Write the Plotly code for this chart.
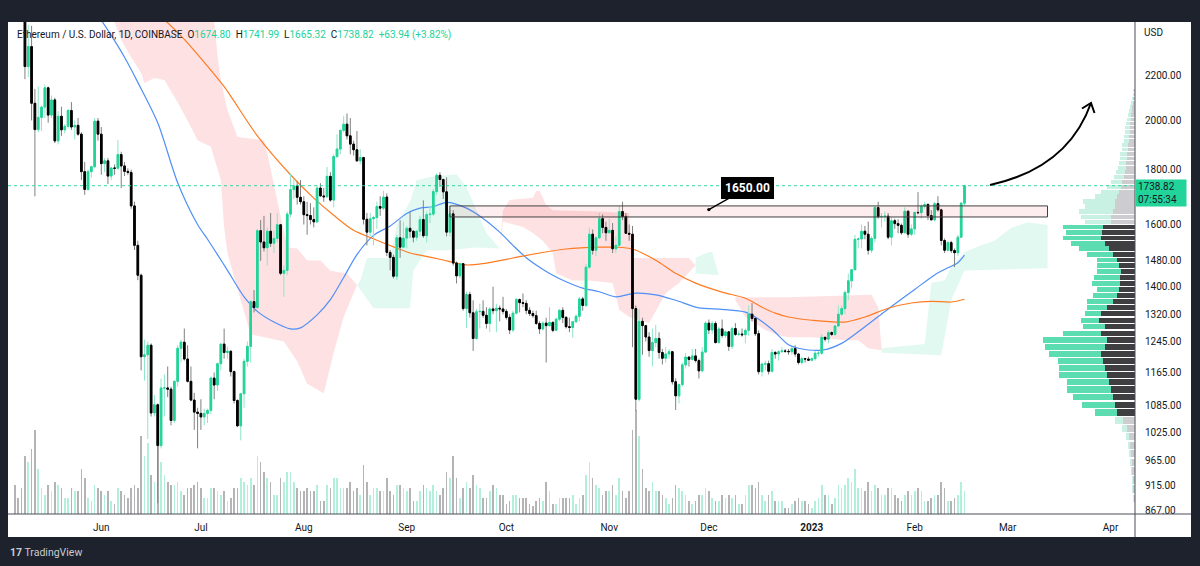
import numpy as np
import pandas as pd
import plotly.graph_objects as go

# ---------------- data: ETH/USD daily candles (COINBASE) ----------------
dates = pd.date_range("2022-05-06", "2023-02-16", freq="D")

opens = [
    2749, 2695, 2636, 2518, 2245, 2343, 2075, 1961, 2013, 2058, 2145, 2023, 2090, 1914, 2018, 1960, 1975, 2043, 1972, 1979, 1942, 1792, 1725, 1792, 1811, 1997,
    1942, 1823, 1834, 1775, 1806, 1805, 1859, 1814, 1793, 1789, 1665, 1530, 1435, 1205, 1210, 1235, 1068, 1087, 996, 1127, 1127, 1124, 1051, 1143, 1227, 1243, 1199, 1143, 1098, 1070,
    1067, 1059, 1067, 1074, 1151, 1134, 1187, 1238, 1216, 1219, 1167, 1097, 1039, 1113, 1193, 1232, 1356, 1339, 1579, 1541, 1522, 1577, 1537, 1553, 1599, 1441, 1450, 1636, 1724, 1738, 1696,
    1680, 1634, 1631, 1617, 1609, 1730, 1701, 1698, 1774, 1686, 1851, 1881, 1958, 1984, 1935, 1901, 1878, 1834, 1847, 1618, 1574, 1620, 1624, 1663, 1657, 1697, 1507, 1491, 1432, 1555, 1524,
    1554, 1587, 1577, 1557, 1577, 1617, 1562, 1634, 1636, 1717, 1778, 1762, 1716, 1574, 1637, 1473, 1433, 1471, 1336, 1377, 1324, 1253, 1327, 1328, 1317, 1294, 1335, 1330, 1337, 1335,
    1328, 1311, 1276, 1323, 1362, 1353, 1351, 1331, 1322, 1316, 1294, 1279, 1295, 1288, 1297, 1275, 1306, 1331, 1311, 1285, 1283, 1299, 1314, 1364, 1345, 1460, 1567, 1514, 1555, 1620, 1590,
    1572, 1580, 1519, 1530, 1645, 1628, 1570, 1567, 1336, 1100, 1300, 1288, 1257, 1221, 1242, 1253, 1216, 1201, 1212, 1218, 1142, 1108, 1135, 1184, 1204, 1198, 1207, 1195, 1169, 1217,
    1295, 1276, 1294, 1242, 1279, 1261, 1271, 1232, 1280, 1264, 1265, 1263, 1275, 1320, 1308, 1266, 1167, 1186, 1187, 1168, 1216, 1212, 1218, 1220, 1219, 1218, 1226, 1212, 1190, 1200, 1199,
    1196, 1200, 1214, 1214, 1256, 1251, 1269, 1264, 1287, 1320, 1336, 1383, 1418, 1452, 1550, 1551, 1577, 1567, 1514, 1553, 1659, 1627, 1628, 1629, 1557, 1613, 1603, 1597, 1572, 1646, 1567,
    1585, 1642, 1641, 1664, 1670, 1631, 1616, 1673, 1651, 1546, 1514, 1539, 1513, 1506, 1557, 1674.80,
]
highs = [
    2760, 2700, 2640, 2545, 2455, 2450, 2140, 2150, 2065, 2160, 2150, 2110, 2100, 2040, 2060, 1985, 2050, 2080, 2000, 2010, 1950, 1830, 1800, 1815, 2010, 2010,
    1972, 1845, 1845, 1810, 1820, 1918, 1870, 1830, 1805, 1800, 1680, 1545, 1440, 1250, 1245, 1240, 1110, 1090, 1150, 1160, 1180, 1130, 1145, 1235, 1250, 1280, 1235, 1180, 1115, 1080,
    1100, 1078, 1078, 1155, 1165, 1190, 1240, 1280, 1232, 1222, 1170, 1100, 1115, 1200, 1245, 1360, 1390, 1585, 1615, 1630, 1590, 1640, 1580, 1640, 1600, 1465, 1645, 1785, 1765, 1755, 1760,
    1700, 1680, 1675, 1660, 1740, 1748, 1730, 1810, 1790, 1860, 1942, 1960, 2020, 2030, 2010, 1915, 1955, 1880, 1850, 1640, 1640, 1630, 1680, 1700, 1720, 1710, 1515, 1500, 1565, 1615, 1610,
    1595, 1645, 1580, 1580, 1630, 1685, 1645, 1665, 1727, 1785, 1790, 1765, 1770, 1650, 1650, 1478, 1475, 1472, 1385, 1385, 1360, 1335, 1350, 1360, 1340, 1340, 1400, 1350, 1345, 1370,
    1335, 1320, 1330, 1367, 1365, 1380, 1360, 1340, 1330, 1330, 1300, 1300, 1310, 1340, 1300, 1310, 1335, 1340, 1315, 1310, 1300, 1320, 1370, 1370, 1470, 1590, 1583, 1560, 1640, 1635, 1610,
    1620, 1605, 1560, 1665, 1680, 1640, 1600, 1595, 1345, 1335, 1310, 1290, 1270, 1280, 1290, 1270, 1225, 1230, 1225, 1220, 1150, 1138, 1190, 1215, 1205, 1225, 1225, 1200, 1230, 1300,
    1305, 1300, 1300, 1285, 1305, 1275, 1272, 1285, 1295, 1275, 1280, 1280, 1345, 1352, 1310, 1275, 1190, 1195, 1195, 1225, 1220, 1222, 1230, 1225, 1225, 1230, 1235, 1215, 1205, 1202, 1205,
    1203, 1220, 1220, 1265, 1258, 1275, 1272, 1290, 1345, 1345, 1390, 1440, 1455, 1565, 1555, 1600, 1595, 1610, 1560, 1665, 1680, 1640, 1645, 1640, 1625, 1620, 1618, 1603, 1660, 1650, 1600,
    1645, 1715, 1670, 1680, 1675, 1650, 1680, 1700, 1655, 1553, 1545, 1545, 1520, 1565, 1680, 1741.99,
]
lows = [
    2654, 2580, 2485, 2185, 2195, 2000, 1700, 1950, 1955, 2010, 1990, 2010, 1905, 1900, 1935, 1945, 1965, 1960, 1920, 1935, 1760, 1705, 1720, 1770, 1805, 1915,
    1780, 1790, 1745, 1760, 1780, 1800, 1730, 1775, 1780, 1655, 1515, 1420, 1170, 1145, 1010, 1060, 1060, 880, 990, 1060, 1105, 1040, 1045, 1130, 1190, 1195, 1140, 1095, 1030, 990,
    1030, 1040, 1045, 1065, 1100, 1120, 1170, 1200, 1200, 1155, 1090, 1036, 1007, 1080, 1180, 1190, 1325, 1335, 1480, 1510, 1465, 1525, 1505, 1540, 1435, 1370, 1435, 1625, 1690, 1670, 1670,
    1600, 1565, 1600, 1590, 1605, 1700, 1680, 1695, 1680, 1660, 1845, 1860, 1950, 1920, 1860, 1855, 1830, 1820, 1600, 1530, 1560, 1530, 1585, 1630, 1650, 1495, 1450, 1425, 1420, 1490, 1520,
    1520, 1555, 1540, 1545, 1560, 1555, 1540, 1605, 1630, 1705, 1735, 1690, 1560, 1560, 1465, 1410, 1425, 1330, 1282, 1310, 1220, 1250, 1280, 1310, 1280, 1270, 1320, 1270, 1300, 1320,
    1305, 1265, 1270, 1320, 1325, 1340, 1320, 1315, 1310, 1290, 1265, 1275, 1190, 1285, 1270, 1275, 1300, 1295, 1280, 1270, 1255, 1295, 1300, 1330, 1340, 1455, 1500, 1495, 1550, 1570, 1545,
    1570, 1505, 1505, 1525, 1615, 1570, 1545, 1230, 1073, 1095, 1210, 1245, 1205, 1180, 1230, 1200, 1185, 1190, 1200, 1135, 1075, 1090, 1130, 1175, 1180, 1195, 1190, 1150, 1165, 1215,
    1265, 1265, 1240, 1240, 1255, 1255, 1220, 1225, 1260, 1260, 1258, 1240, 1260, 1300, 1260, 1160, 1155, 1170, 1160, 1165, 1200, 1195, 1215, 1215, 1210, 1210, 1205, 1185, 1185, 1190, 1195,
    1193, 1195, 1205, 1210, 1245, 1240, 1260, 1260, 1285, 1315, 1320, 1360, 1395, 1450, 1520, 1520, 1550, 1500, 1505, 1540, 1620, 1590, 1610, 1550, 1530, 1585, 1570, 1565, 1570, 1555, 1560,
    1565, 1635, 1620, 1655, 1615, 1615, 1610, 1645, 1530, 1505, 1510, 1505, 1460, 1495, 1555, 1665.32,
]
closes = [
    2695, 2636, 2518, 2245, 2343, 2075, 1961, 2013, 2058, 2145, 2023, 2090, 1914, 2018, 1960, 1975, 2043, 1972, 1979, 1942, 1792, 1725, 1792, 1811, 1997, 1942,
    1823, 1834, 1775, 1806, 1805, 1859, 1814, 1793, 1789, 1665, 1530, 1435, 1205, 1210, 1235, 1068, 1087, 996, 1127, 1127, 1124, 1051, 1143, 1227, 1243, 1199, 1143, 1098, 1070, 1067,
    1059, 1067, 1074, 1151, 1134, 1187, 1238, 1216, 1219, 1167, 1097, 1039, 1113, 1193, 1232, 1356, 1339, 1579, 1541, 1522, 1577, 1537, 1553, 1599, 1441, 1450, 1636, 1724, 1738, 1696, 1680,
    1634, 1631, 1617, 1609, 1730, 1701, 1698, 1774, 1686, 1851, 1881, 1958, 1984, 1935, 1901, 1878, 1834, 1847, 1618, 1574, 1620, 1624, 1663, 1657, 1697, 1507, 1491, 1432, 1555, 1524, 1554,
    1587, 1577, 1557, 1577, 1617, 1562, 1634, 1636, 1717, 1778, 1762, 1716, 1574, 1637, 1473, 1433, 1471, 1336, 1377, 1324, 1253, 1327, 1328, 1317, 1294, 1335, 1330, 1337, 1335, 1328,
    1311, 1276, 1323, 1362, 1353, 1351, 1331, 1322, 1316, 1294, 1279, 1295, 1288, 1297, 1275, 1306, 1331, 1311, 1285, 1283, 1299, 1314, 1364, 1345, 1460, 1567, 1514, 1555, 1620, 1590, 1572,
    1580, 1519, 1530, 1645, 1628, 1570, 1567, 1336, 1100, 1300, 1288, 1257, 1221, 1242, 1253, 1216, 1201, 1212, 1218, 1142, 1108, 1135, 1184, 1204, 1198, 1207, 1195, 1169, 1217, 1295,
    1276, 1294, 1242, 1279, 1261, 1271, 1232, 1280, 1264, 1265, 1263, 1275, 1320, 1308, 1266, 1167, 1186, 1187, 1168, 1216, 1212, 1218, 1220, 1219, 1218, 1226, 1212, 1190, 1200, 1199, 1196,
    1200, 1214, 1214, 1256, 1251, 1269, 1264, 1287, 1320, 1336, 1383, 1418, 1452, 1550, 1551, 1577, 1567, 1514, 1553, 1659, 1627, 1628, 1629, 1557, 1613, 1603, 1597, 1572, 1646, 1567, 1585,
    1642, 1641, 1664, 1670, 1631, 1616, 1673, 1651, 1546, 1514, 1539, 1513, 1506, 1557, 1675, 1738.82,
]
volumes = [  # thousand ETH
    450, 250, 400, 900, 800, 1000, 1300, 700, 400, 300, 450, 350, 500, 450, 400, 250, 250, 400, 350, 350, 700, 550, 250, 200, 450, 400,
    350, 300, 350, 200, 150, 400, 350, 300, 250, 400, 450, 400, 1200, 900, 1100, 600, 500, 1250, 800, 600, 500, 450, 450, 500, 350, 300, 400, 400, 450, 500,
    400, 250, 250, 400, 400, 350, 300, 350, 200, 250, 400, 400, 550, 500, 450, 550, 450, 900, 800, 650, 550, 500, 300, 300, 550, 500, 650, 650, 500, 400, 350,
    350, 400, 350, 350, 450, 200, 200, 450, 400, 550, 550, 400, 400, 400, 500, 350, 400, 300, 750, 500, 300, 400, 400, 350, 350, 550, 350, 300, 450, 450, 400,
    350, 400, 200, 200, 350, 450, 400, 350, 450, 350, 300, 400, 650, 550, 900, 550, 250, 400, 500, 400, 600, 450, 400, 250, 250, 350, 450, 400, 300, 300,
    150, 200, 300, 300, 250, 250, 250, 150, 120, 200, 250, 200, 500, 350, 150, 150, 250, 250, 250, 250, 300, 150, 250, 300, 600, 800, 550, 450, 400, 300, 350,
    350, 450, 300, 550, 350, 250, 350, 1300, 1600, 1200, 700, 400, 350, 500, 350, 350, 300, 250, 150, 250, 450, 400, 350, 300, 200, 150, 200, 300, 300, 400,
    350, 250, 200, 200, 300, 250, 300, 250, 300, 150, 150, 300, 450, 450, 400, 500, 300, 200, 300, 350, 200, 200, 200, 100, 100, 150, 200, 250, 200, 200, 150,
    100, 200, 250, 450, 300, 300, 150, 250, 450, 400, 450, 550, 500, 700, 400, 400, 350, 500, 350, 450, 400, 300, 300, 400, 400, 300, 250, 200, 300, 350, 300,
    350, 400, 350, 200, 200, 250, 300, 300, 500, 400, 200, 200, 250, 300, 500, 350,
]
for arr in (opens, highs, lows, closes, volumes):
    assert len(arr) == len(dates), len(arr)

# moving averages
ma_fast_dates = ["2022-05-29", "2022-06-04", "2022-06-08", "2022-06-12", "2022-06-18", "2022-06-24", "2022-06-30",
                 "2022-07-03", "2022-07-06", "2022-07-09", "2022-07-14", "2022-07-18", "2022-07-23", "2022-07-28",
                 "2022-07-31", "2022-08-05", "2022-08-09", "2022-08-13", "2022-08-17", "2022-08-22", "2022-08-27",
                 "2022-09-01", "2022-09-05", "2022-09-09", "2022-09-13", "2022-09-19", "2022-09-24", "2022-09-29",
                 "2022-10-03", "2022-10-07", "2022-10-11", "2022-10-15", "2022-10-19", "2022-10-24", "2022-10-29",
                 "2022-11-03", "2022-11-09", "2022-11-15", "2022-11-21", "2022-11-28", "2022-12-05", "2022-12-12",
                 "2022-12-15", "2022-12-20", "2022-12-25", "2022-12-28", "2023-01-04", "2023-01-10", "2023-01-17",
                 "2023-01-25", "2023-02-01", "2023-02-07", "2023-02-11", "2023-02-14", "2023-02-16"]
ma_fast = [2560, 2400, 2290, 2170, 1990, 1750, 1600,
           1550, 1500, 1450, 1370, 1328, 1298, 1279,
           1282, 1318, 1362, 1428, 1500, 1563, 1595,
           1638, 1657, 1662, 1678, 1657, 1621, 1574,
           1530, 1490, 1460, 1435, 1415, 1396, 1385,
           1370, 1381, 1376, 1360, 1338, 1334, 1326,
           1312, 1278, 1236, 1227, 1222, 1240, 1285,
           1342, 1392, 1436, 1458, 1474, 1498]
ma_slow_dates = ["2022-06-16", "2022-06-20", "2022-06-26", "2022-07-01", "2022-07-08", "2022-07-18", "2022-07-28",
                 "2022-08-04", "2022-08-10", "2022-08-16", "2022-08-23", "2022-08-29", "2022-09-02", "2022-09-05",
                 "2022-09-11", "2022-09-19", "2022-09-25", "2022-10-03", "2022-10-11", "2022-10-19", "2022-10-29",
                 "2022-11-03", "2022-11-08", "2022-11-15", "2022-11-21", "2022-11-27", "2022-12-05", "2022-12-12",
                 "2022-12-17", "2022-12-21", "2022-12-25", "2023-01-01", "2023-01-11", "2023-01-17", "2023-01-24",
                 "2023-01-31", "2023-02-06", "2023-02-12", "2023-02-16"]
ma_slow = [2540, 2482, 2380, 2285, 2150, 1935, 1780,
           1693, 1632, 1580, 1547, 1521, 1505, 1498,
           1485, 1467, 1473, 1489, 1505, 1518, 1524,
           1524, 1518, 1482, 1441, 1411, 1384, 1366,
           1340, 1323, 1312, 1303, 1298, 1312, 1337,
           1352, 1357, 1355, 1363]

# Ichimoku cloud segments (upper edge, lower edge)
cloud1_up_dates = ["2022-06-02", "2022-07-04", "2022-07-05", "2022-07-06", "2022-07-07", "2022-07-09", "2022-07-12",
                   "2022-07-20", "2022-07-21", "2022-07-24", "2022-07-27", "2022-07-30", "2022-08-02", "2022-08-06",
                   "2022-08-09", "2022-08-14", "2022-08-17"]
cloud1_up = [2800, 2800, 2470, 2300, 2180, 2045, 1930, 1917, 1864, 1686, 1523, 1520, 1481, 1481, 1449, 1440, 1405]
cloud1_lo_dates = ["2022-06-02", "2022-06-05", "2022-06-07", "2022-06-10", "2022-06-13", "2022-06-14", "2022-06-17",
                   "2022-06-20", "2022-06-24", "2022-06-28", "2022-06-30", "2022-07-04", "2022-07-07", "2022-07-08",
                   "2022-07-09", "2022-07-13", "2022-07-16", "2022-07-22", "2022-07-26", "2022-07-30", "2022-08-02",
                   "2022-08-07", "2022-08-10", "2022-08-13", "2022-08-17"]
cloud1_lo = [2800, 2470, 2377, 2290, 2214, 2167, 2190, 2181, 2079, 1972, 1917, 1890, 1760, 1591, 1505, 1360, 1264,
             1253, 1245, 1193, 1137, 1114, 1216, 1312, 1405]

cloud2_up_dates = ["2022-08-17", "2022-08-18", "2022-08-20", "2022-08-27", "2022-08-29", "2022-09-02", "2022-09-04",
                   "2022-09-09", "2022-09-16", "2022-09-19", "2022-09-22", "2022-09-25", "2022-09-29"]
cloud2_up = [1405, 1418, 1489, 1489, 1600, 1680, 1760, 1773, 1782, 1734, 1650, 1571, 1520]
cloud2_lo_dates = ["2022-08-17", "2022-08-22", "2022-09-02", "2022-09-03", "2022-09-05", "2022-09-07", "2022-09-13",
                   "2022-09-22", "2022-09-29"]
cloud2_lo = [1405, 1337, 1337, 1449, 1481, 1514, 1514, 1523, 1520]

cloud3_up_dates = ["2022-09-29", "2022-09-30", "2022-10-02", "2022-10-09", "2022-10-10", "2022-10-11", "2022-10-13",
                   "2022-10-15", "2022-10-29", "2022-11-07", "2022-11-08", "2022-11-25", "2022-11-27"]
cloud3_up = [1520, 1650, 1686, 1694, 1719, 1719, 1668, 1650, 1645, 1640, 1489, 1489, 1466]
cloud3_lo_dates = ["2022-09-29", "2022-09-30", "2022-10-06", "2022-10-09", "2022-10-12", "2022-10-15", "2022-10-16",
                   "2022-10-21", "2022-10-26", "2022-11-02", "2022-11-04", "2022-11-07", "2022-11-13", "2022-11-18",
                   "2022-11-22", "2022-11-27"]
cloud3_lo = [1520, 1610, 1591, 1571, 1545, 1505, 1441, 1419, 1419, 1411, 1333, 1312, 1295, 1381, 1411, 1466]

cloud4_up_dates = ["2022-11-27", "2022-12-01", "2022-12-02"]
cloud4_up = [1490, 1508, 1508]
cloud4_lo_dates = ["2022-11-27", "2022-12-04"]
cloud4_lo = [1440, 1435]

cloud5_up_dates = ["2022-12-09", "2022-12-25", "2023-01-19", "2023-01-21", "2023-01-22"]
cloud5_up = [1369, 1369, 1376, 1340, 1227]
cloud5_lo_dates = ["2022-12-09", "2022-12-12", "2022-12-18", "2022-12-22", "2022-12-25", "2023-01-01", "2023-01-11",
                   "2023-01-15", "2023-01-18", "2023-01-22"]
cloud5_lo = [1360, 1312, 1276, 1262, 1256, 1256, 1248, 1248, 1227, 1222]

cloud6_up_dates = ["2023-01-22", "2023-02-04", "2023-02-06", "2023-02-10", "2023-02-12", "2023-02-16", "2023-02-21",
                   "2023-02-25", "2023-03-02", "2023-03-07", "2023-03-13"]
cloud6_up = [1227, 1238, 1411, 1420, 1460, 1508, 1530, 1545, 1588, 1608, 1598]
cloud6_lo_dates = ["2023-01-22", "2023-02-09", "2023-02-12", "2023-02-16", "2023-03-13"]
cloud6_lo = [1215, 1209, 1360, 1450, 1457]

# visible-range volume profile: row bottoms (USD), down / up volume
profile_rows = list(range(880, 2140, 18))
profile_down = [1, 2, 2, 3, 3, 4, 5, 6, 8, 12,
                18, 20, 22, 24, 26, 28, 30, 32, 34, 30,
                28, 34, 30, 36, 34, 28, 22, 18, 16, 15,
                15, 14, 16, 18, 22, 26, 30, 34, 33, 32,
                24, 24, 22, 20, 20, 18, 16, 14, 13, 11,
                10, 9, 9, 8, 8, 7, 7, 6, 6, 5,
                5, 5, 4, 4, 3, 3, 2, 2, 1, 1]
profile_up = [1, 1, 1, 1, 2, 2, 2, 3, 5, 8,
              22, 33, 40, 44, 42, 48, 46, 45, 52, 60,
              64, 38, 22, 18, 16, 20, 26, 24, 22, 28,
              26, 24, 22, 20, 26, 30, 34, 38, 36, 40,
              26, 30, 34, 30, 32, 22, 18, 14, 11, 10,
              9, 8, 7, 7, 7, 6, 6, 5, 5, 5,
              5, 4, 4, 3, 3, 2, 2, 1, 1, 1]
value_area = (1060, 1582)

y_ticks = [867, 915, 965, 1025, 1085, 1165, 1245, 1320, 1400, 1480, 1600, 1800, 2000, 2200]
x_tick_dates = ["2022-06-01", "2022-07-01", "2022-08-01", "2022-09-01", "2022-10-01", "2022-11-01",
                "2022-12-01", "2023-01-01", "2023-02-01", "2023-03-01", "2023-04-01"]
x_tick_labels = ["Jun", "Jul", "Aug", "Sep", "Oct", "Nov", "Dec", "<b>2023</b>", "Feb", "Mar", "Apr"]

zone_low, zone_high = 1626, 1665
zone_start, zone_end = "2022-09-14", "2023-03-13"
zone_label, zone_anchor_date, zone_anchor_price = "1650.00", "2022-12-01", 1652
last_price = 1738.82
ohlc_last = dict(o="1674.80", h="1741.99", l="1665.32", c="1738.82", chg="+63.94 (+3.82%)")

# ---------------- style ----------------
W, H = 1200, 566
ML, MR, MT, MB = 8, 65, 22, 52
PW, PH = W - ML - MR, H - MT - MB
BG_DARK = "#1e222d"
TXT = "#131722"
UP = "#22d39a"
DN = "#000000"
WICK_UP = "#8ee6c8"
WICK_DN = "#808080"
FONT = "Roboto"
PRICE_RANGE = [np.log10(860), np.log10(2470)]
DAY_PX = 3.32
x_left = pd.Timestamp("2022-06-01") - pd.Timedelta(days=(101.3 - ML) / DAY_PX)
x_right = x_left + pd.Timedelta(days=PW / DAY_PX)


def P(px, py):
    return (px - ML) / PW, 1 - (py - MT) / PH


fig = go.Figure()

# volume (main y axis)
vol_colors = ["rgba(34,211,154,0.35)" if c >= o else "rgba(105,105,110,0.5)" for o, c in zip(opens, closes)]
fig.add_trace(go.Bar(x=dates, y=volumes, marker=dict(color=vol_colors, line_width=0),
                     width=0.5 * 86400000, hoverinfo="skip", xaxis="x", yaxis="y"))

# ichimoku clouds
clouds = [
    (cloud1_up_dates, cloud1_up, cloud1_lo_dates, cloud1_lo, "rgba(242,54,69,0.15)"),
    (cloud2_up_dates, cloud2_up, cloud2_lo_dates, cloud2_lo, "rgba(34,211,154,0.13)"),
    (cloud3_up_dates, cloud3_up, cloud3_lo_dates, cloud3_lo, "rgba(242,54,69,0.15)"),
    (cloud4_up_dates, cloud4_up, cloud4_lo_dates, cloud4_lo, "rgba(34,211,154,0.13)"),
    (cloud5_up_dates, cloud5_up, cloud5_lo_dates, cloud5_lo, "rgba(242,54,69,0.15)"),
    (cloud6_up_dates, cloud6_up, cloud6_lo_dates, cloud6_lo, "rgba(34,211,154,0.13)"),
]
for ud, uv, ld, lv, col in clouds:
    fig.add_trace(go.Scatter(x=list(ud) + list(ld)[::-1], y=list(uv) + list(lv)[::-1],
                             fill="toself", fillcolor=col, mode="lines", line=dict(width=0),
                             hoverinfo="skip", xaxis="x", yaxis="y2"))

# moving averages
fig.add_trace(go.Scatter(x=ma_fast_dates, y=ma_fast, mode="lines",
                         line=dict(color="#4f8ff6", width=1.2, shape="spline", smoothing=0.8),
                         hoverinfo="skip", xaxis="x", yaxis="y2"))
fig.add_trace(go.Scatter(x=ma_slow_dates, y=ma_slow, mode="lines",
                         line=dict(color="#ff7b22", width=1.2, shape="spline", smoothing=0.8),
                         hoverinfo="skip", xaxis="x", yaxis="y2"))

# candles: wicks first, then solid bodies
body_hi = [max(o, c) for o, c in zip(opens, closes)]
body_lo = [min(o, c) for o, c in zip(opens, closes)]
fig.add_trace(go.Candlestick(x=dates, open=opens, high=highs, low=lows, close=closes,
                             increasing=dict(line=dict(color=WICK_UP, width=1), fillcolor=WICK_UP),
                             decreasing=dict(line=dict(color=WICK_DN, width=1), fillcolor=WICK_DN),
                             whiskerwidth=0, hoverinfo="skip", xaxis="x", yaxis="y3"))
fig.add_trace(go.Candlestick(x=dates, open=opens, high=body_hi, low=body_lo, close=closes,
                             increasing=dict(line=dict(color=UP, width=1), fillcolor=UP),
                             decreasing=dict(line=dict(color=DN, width=1), fillcolor=DN),
                             whiskerwidth=0, hoverinfo="skip", xaxis="x", yaxis="y3"))

# volume profile
centers = [r + 9 for r in profile_rows]
ylog = [np.log10(c) for c in centers]
thick = [np.log10((c + 7.5) / (c - 7.5)) for c in centers]
in_va = [value_area[0] <= r <= value_area[1] for r in profile_rows]
dn_cols = ["#3f3f42" if v else "#cdcdcf" for v in in_va]
up_cols = ["#5cdcb1" if v else "#c8f1e3" for v in in_va]
fig.add_trace(go.Bar(y=ylog, x=profile_down, base=[0] * len(profile_down), orientation="h", width=thick,
                     marker=dict(color=dn_cols, line_width=0), hoverinfo="skip", xaxis="x2", yaxis="y4"))
fig.add_trace(go.Bar(y=ylog, x=profile_up, base=profile_down, orientation="h", width=thick,
                     marker=dict(color=up_cols, line_width=0), hoverinfo="skip", xaxis="x2", yaxis="y4"))

# ---------------- shapes ----------------
xr, _ = P(1191, 0)
_, yb = P(0, 537)
shapes = [
    dict(type="rect", xref="paper", yref="paper", x0=1, x1=xr, y0=yb, y1=1, fillcolor="white",
         line_width=0, layer="below"),
    dict(type="rect", xref="paper", yref="paper", x0=0, x1=xr, y0=yb, y1=0, fillcolor="white",
         line_width=0, layer="below"),
    dict(type="line", xref="paper", yref="paper", x0=0, x1=xr, y0=0, y1=0, line=dict(color="#4a4e58", width=1)),
    dict(type="line", xref="paper", yref="paper", x0=1, x1=1, y0=yb, y1=1, line=dict(color="#4a4e58", width=1)),
    dict(type="rect", xref="x", yref="y2", x0=zone_start, x1=zone_end, y0=zone_low, y1=zone_high,
         fillcolor="rgba(242,54,69,0.09)", line=dict(color="#404040", width=1)),
    dict(type="line", xref="paper", yref="y2", x0=0, x1=1, y0=last_price, y1=last_price,
         line=dict(color="rgba(34,211,154,0.9)", width=1, dash="dot")),
]
a0, a1, a2 = P(990, 185), P(1068, 168), P(1091, 103)
shapes.append(dict(type="path", xref="paper", yref="paper",
                   path=f"M {a0[0]} {a0[1]} Q {a1[0]} {a1[1]} {a2[0]} {a2[1]}",
                   line=dict(color="black", width=2)))
h1, h2 = P(1082, 108.5), P(1094.5, 113)
shapes.append(dict(type="path", xref="paper", yref="paper",
                   path=f"M {h1[0]} {h1[1]} L {a2[0]} {a2[1]} L {h2[0]} {h2[1]}",
                   line=dict(color="black", width=2)))

# ---------------- annotations ----------------
tc = UP
hdr = ("Ethereum / U.S. Dollar, 1D, COINBASE\u00a0\u00a0"
       f"O<span style='color:{tc}'>{ohlc_last['o']}</span>\u00a0\u00a0"
       f"H<span style='color:{tc}'>{ohlc_last['h']}</span>\u00a0\u00a0"
       f"L<span style='color:{tc}'>{ohlc_last['l']}</span>\u00a0\u00a0"
       f"C<span style='color:{tc}'>{ohlc_last['c']}</span>\u00a0\u00a0"
       f"<span style='color:{tc}'>{ohlc_last['chg']}</span>")
annotations = [
    dict(xref="paper", yref="paper", x=P(15, 0)[0], y=P(0, 35)[1], text=hdr, showarrow=False,
         xanchor="left", yanchor="middle", font=dict(family=FONT, size=10, color=TXT)),
    dict(xref="paper", yref="paper", x=1, y=P(0, 33)[1], xshift=7, text="USD", showarrow=False,
         xanchor="left", yanchor="middle", font=dict(family=FONT, size=10, color=TXT)),
    dict(xref="paper", yref="paper", x=1, y=P(0, 192.5)[1], text=f"{last_price:.2f}<br>07:55:34",
         showarrow=False, xanchor="left", yanchor="middle", align="left", bgcolor=UP,
         width=46, height=22, borderpad=2, font=dict(family=FONT, size=10, color=TXT)),
    dict(xref="x", yref="y2", x=zone_anchor_date, y=np.log10(zone_anchor_price), text=f"<b>{zone_label}</b>",
         showarrow=True, ax=39, ay=-22, arrowhead=6, arrowsize=0.6, arrowwidth=1.4, arrowcolor="black",
         bgcolor="black", bordercolor="black", borderwidth=1, borderpad=3,
         font=dict(family=FONT, size=12, color="white")),
    dict(xref="paper", yref="paper", x=0, y=P(0, 552)[1], text="<b>17</b> TradingView", showarrow=False,
         xanchor="left", yanchor="middle", font=dict(family=FONT, size=10.5, color="#c9ccd3")),
]

fig.update_layout(
    width=W, height=H, autosize=False,
    margin=dict(l=ML, r=MR, t=MT, b=MB, pad=0),
    paper_bgcolor=BG_DARK, plot_bgcolor="white",
    showlegend=False, barmode="overlay", bargap=0,
    font=dict(family=FONT, size=10, color=TXT),
    xaxis=dict(type="date", range=[x_left, x_right], tickvals=x_tick_dates, ticktext=x_tick_labels,
               showgrid=False, zeroline=False, showline=False, ticks="outside", ticklen=4,
               tickcolor="rgba(0,0,0,0)", tickfont=dict(family=FONT, size=10, color=TXT),
               rangeslider=dict(visible=False), fixedrange=True),
    xaxis2=dict(overlaying="x", range=[PW, 0], visible=False, fixedrange=True),
    yaxis=dict(range=[0, 7569], visible=False, fixedrange=True),
    yaxis2=dict(type="log", range=PRICE_RANGE, overlaying="y", side="right", tickvals=y_ticks,
                ticktext=[f"{v:.2f}" for v in y_ticks], showgrid=False, zeroline=False, showline=False,
                ticks="outside", ticklen=7, tickcolor="rgba(0,0,0,0)",
                tickfont=dict(family=FONT, size=10, color=TXT), fixedrange=True),
    yaxis3=dict(type="log", range=PRICE_RANGE, overlaying="y", visible=False, fixedrange=True),
    yaxis4=dict(range=PRICE_RANGE, overlaying="y", visible=False, fixedrange=True),
    shapes=shapes, annotations=annotations,
)

fig.write_html("out.html")
